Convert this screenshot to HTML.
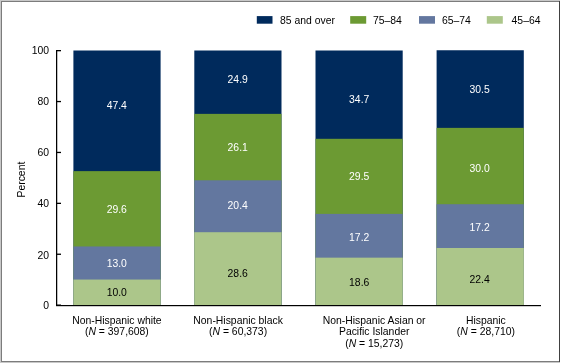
<!DOCTYPE html>
<html><head><meta charset="utf-8"><style>
html,body{margin:0;padding:0;background:#fff;width:561px;height:363px;overflow:hidden}
svg{display:block;will-change:transform}
text{font-family:"Liberation Sans",sans-serif;font-size:10.4px}
</style></head><body>
<svg width="561" height="363" viewBox="0 0 561 363">
<rect x="0" y="0" width="560" height="1" fill="#c8c8c8"/>
<rect x="0" y="0" width="1" height="363" fill="#c8c8c8"/>
<rect x="0" y="362" width="560" height="1" fill="#c8c8c8"/>
<rect x="1" y="1" width="559" height="1" fill="#7c7c7c"/>
<rect x="1" y="1" width="1" height="361" fill="#7c7c7c"/>
<rect x="1" y="361" width="559" height="1" fill="#7c7c7c"/>
<rect x="559" y="1" width="1" height="361" fill="#404040"/>
<g>
<rect x="256.8" y="16.1" width="15.7" height="7.6" fill="#002a5c"/>
<rect x="350.2" y="16.1" width="16" height="7.6" fill="#6c9a33"/>
<rect x="419" y="16.1" width="16" height="7.6" fill="#63779f"/>
<rect x="486.8" y="16.1" width="16" height="7.6" fill="#acc68a"/>
<text x="280" y="23.8">85 and over</text>
<text x="373" y="23.8">75–84</text>
<text x="442" y="23.8">65–74</text>
<text x="511.6" y="23.8">45–64</text>
</g>
<rect x="73.4" y="50.50" width="87.2" height="254.50" fill="#002a5c"/><rect x="73.4" y="171.13" width="87.2" height="133.87" fill="#6c9a33"/><rect x="73.4" y="246.47" width="87.2" height="58.53" fill="#63779f"/><rect x="73.4" y="279.55" width="87.2" height="25.45" fill="#acc68a"/><rect x="194.3" y="50.50" width="87.2" height="254.50" fill="#002a5c"/><rect x="194.3" y="113.87" width="87.2" height="191.13" fill="#6c9a33"/><rect x="194.3" y="180.30" width="87.2" height="124.70" fill="#63779f"/><rect x="194.3" y="232.21" width="87.2" height="72.79" fill="#acc68a"/><rect x="315.5" y="50.50" width="87.2" height="254.50" fill="#002a5c"/><rect x="315.5" y="138.81" width="87.2" height="166.19" fill="#6c9a33"/><rect x="315.5" y="213.89" width="87.2" height="91.11" fill="#63779f"/><rect x="315.5" y="257.66" width="87.2" height="47.34" fill="#acc68a"/><rect x="436.6" y="50.25" width="87.2" height="254.75" fill="#002a5c"/><rect x="436.6" y="127.87" width="87.2" height="177.13" fill="#6c9a33"/><rect x="436.6" y="204.22" width="87.2" height="100.78" fill="#63779f"/><rect x="436.6" y="247.99" width="87.2" height="57.01" fill="#acc68a"/>
<rect x="56" y="50" width="1.25" height="256" fill="#000"/>
<rect x="56" y="305" width="485" height="1.2" fill="#000"/>
<rect x="56" y="304.50" width="5" height="1.3" fill="#000"/><text x="49" y="309.35" text-anchor="end">0</text><rect x="56" y="253.60" width="5" height="1.3" fill="#000"/><text x="49" y="258.55" text-anchor="end">20</text><rect x="56" y="202.70" width="5" height="1.3" fill="#000"/><text x="49" y="207.35" text-anchor="end">40</text><rect x="56" y="151.80" width="5" height="1.3" fill="#000"/><text x="49" y="155.85" text-anchor="end">60</text><rect x="56" y="100.90" width="5" height="1.3" fill="#000"/><text x="49" y="104.80" text-anchor="end">80</text><rect x="56" y="50.00" width="5" height="1.3" fill="#000"/><text x="49" y="53.95" text-anchor="end">100</text>
<text x="116.80" y="296.00" fill="#000" text-anchor="middle">10.0</text><text x="116.80" y="266.50" fill="#fff" text-anchor="middle">13.0</text><text x="116.80" y="212.50" fill="#fff" text-anchor="middle">29.6</text><text x="116.80" y="108.60" fill="#fff" text-anchor="middle">47.4</text><text x="237.70" y="276.60" fill="#000" text-anchor="middle">28.6</text><text x="237.70" y="208.80" fill="#fff" text-anchor="middle">20.4</text><text x="237.70" y="151.30" fill="#fff" text-anchor="middle">26.1</text><text x="237.70" y="83.10" fill="#fff" text-anchor="middle">24.9</text><text x="359.20" y="285.80" fill="#000" text-anchor="middle">18.6</text><text x="359.20" y="240.50" fill="#fff" text-anchor="middle">17.2</text><text x="359.20" y="179.90" fill="#fff" text-anchor="middle">29.5</text><text x="359.20" y="102.70" fill="#fff" text-anchor="middle">34.7</text><text x="479.60" y="282.60" fill="#000" text-anchor="middle">22.4</text><text x="479.60" y="231.10" fill="#fff" text-anchor="middle">17.2</text><text x="479.60" y="171.60" fill="#fff" text-anchor="middle">30.0</text><text x="479.60" y="93.20" fill="#fff" text-anchor="middle">30.5</text>
<text transform="translate(25.0,179.6) rotate(-90)" text-anchor="middle">Percent</text>
<g text-anchor="middle">
<text x="116.9" y="323.6">Non-Hispanic white</text>
<text x="116.9" y="335.4">(<tspan font-style="italic">N</tspan> = 397,608)</text>
<text x="238.1" y="323.6">Non-Hispanic black</text>
<text x="238.1" y="335.4">(<tspan font-style="italic">N</tspan> = 60,373)</text>
<text x="374.2" y="323.6">Non-Hispanic Asian or</text>
<text x="374.2" y="335.4">Pacific Islander</text>
<text x="374.2" y="347.2">(<tspan font-style="italic">N</tspan> = 15,273)</text>
<text x="485.9" y="323.6">Hispanic</text>
<text x="485.9" y="335.4">(<tspan font-style="italic">N</tspan> = 28,710)</text>
</g>
</svg>
</body></html>
